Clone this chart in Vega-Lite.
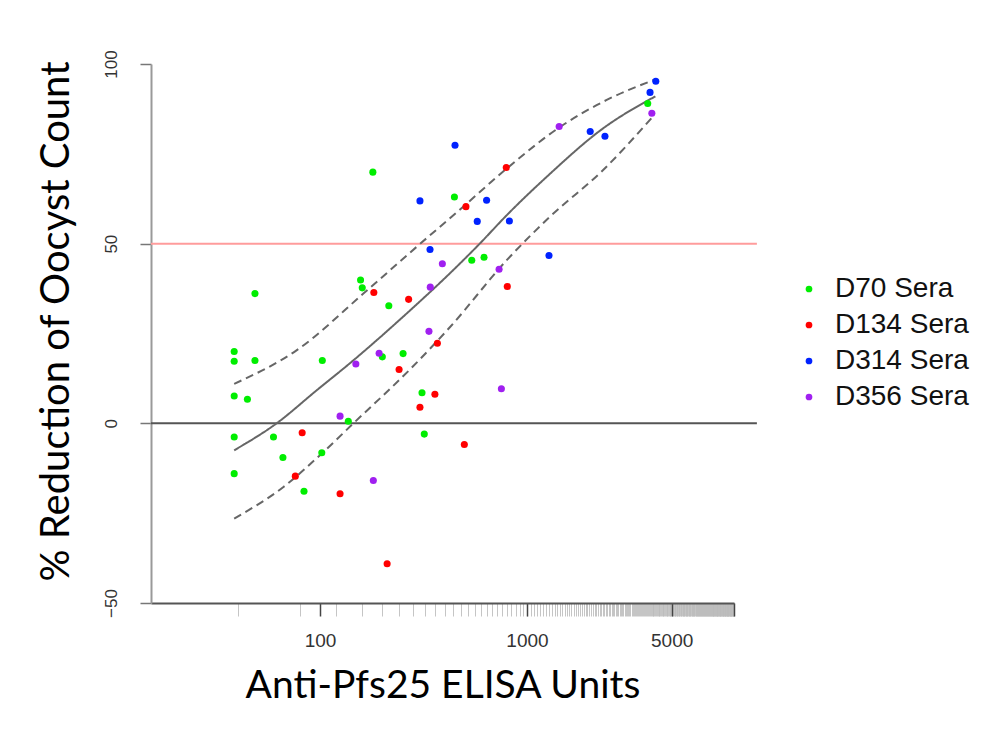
{
  "$schema": "https://vega.github.io/schema/vega-lite/v6.json",
  "width": 583,
  "height": 539,
  "autosize": {"type": "none"},
  "padding": {"left": 151, "top": 64, "right": 264, "bottom": 140},
  "background": "white",
  "config": {"view": {"stroke": null}, "font": "Liberation Sans"},
  "encoding": {
    "y": {
      "field": "y",
      "type": "quantitative",
      "scale": {"domain": [-50, 100], "nice": false, "zero": false},
      "axis": {
        "values": [-50, 0, 50, 100],
        "grid": false,
        "labelAngle": -90,
        "labelAlign": "center",
        "labelBaseline": "bottom",
        "labelFontSize": 17,
        "labelColor": "#333333",
        "labelPadding": 20,
        "tickSize": 11,
        "tickColor": "#777777",
        "tickWidth": 1.5,
        "domainColor": "#999999",
        "domainWidth": 2,
        "title": "% Reduction of Oocyst Count",
        "titleFont": "Lato",
        "titleFontSize": 40,
        "titleFontWeight": "normal",
        "titleColor": "#000000",
        "titlePadding": 26,
        "titleY": 257
      }
    }
  },
  "layer": [
    {
      "data": {"values": [{"x1": 15.26, "x2": 12900, "y": 50}]},
      "mark": {"type": "rule", "color": "#ff9c9c", "strokeWidth": 2},
      "encoding": {
        "x": {
          "field": "x1",
          "type": "quantitative",
          "scale": {"type": "log", "domain": [15.26, 10000], "nice": false},
          "axis": {
            "orient": "bottom",
            "values": [40,80,120,160,200,240,280,320,360,400,440,480,520,560,600,640,680,720,760,800,840,880,920,960,1000,
              1040,1080,1120,1160,1200,1240,1280,1320,1360,1400,1440,1480,1520,1560,1600,1640,1680,1720,1760,1800,1840,1880,1920,1960,2000,
              2040,2080,2120,2160,2200,2240,2280,2320,2360,2400,2440,2480,2520,2560,2600,2640,2680,2720,2760,2800,2840,2880,2920,2960,3000,
              3040,3080,3120,3160,3200,3240,3280,3320,3360,3400,3440,3480,3520,3560,3600,3640,3680,3720,3760,3800,3840,3880,3920,3960,4000,
              4040,4080,4120,4160,4200,4240,4280,4320,4360,4400,4440,4480,4520,4560,4600,4640,4680,4720,4760,4800,4840,4880,4920,4960,5000,
              5040,5080,5120,5160,5200,5240,5280,5320,5360,5400,5440,5480,5520,5560,5600,5640,5680,5720,5760,5800,5840,5880,5920,5960,6000,
              6040,6080,6120,6160,6200,6240,6280,6320,6360,6400,6440,6480,6520,6560,6600,6640,6680,6720,6760,6800,6840,6880,6920,6960,7000,
              7040,7080,7120,7160,7200,7240,7280,7320,7360,7400,7440,7480,7520,7560,7600,7640,7680,7720,7760,7800,7840,7880,7920,7960,8000,
              8040,8080,8120,8160,8200,8240,8280,8320,8360,8400,8440,8480,8520,8560,8600,8640,8680,8720,8760,8800,8840,8880,8920,8960,9000,
              9040,9080,9120,9160,9200,9240,9280,9320,9360,9400,9440,9480,9520,9560,9600,9640,9680,9720,9760,9800,9840,9880,9920,9960,10000],
            "labels": false,
            "domain": false,
            "grid": false,
            "ticks": true,
            "tickSize": 13,
            "tickColor": "#bbbbbb",
            "tickWidth": 1,
            "tickOpacity": 0.85,
            "title": null
          }
        },
        "x2": {"field": "x2"}
      }
    },
    {
      "data": {"values": [{"x1": 15.26, "x2": 12900, "y": 0}]},
      "mark": {"type": "rule", "color": "#555555", "strokeWidth": 2},
      "encoding": {
        "x": {"field": "x1", "type": "quantitative", "scale": {"type": "log", "domain": [15.26, 10000], "nice": false}, "axis": null},
        "x2": {"field": "x2"}
      }
    },
    {
      "data": {
        "values": [
          {"x": 38.5, "y": -7.5, "band": "fit"},
          {"x": 61.7, "y": 0, "band": "fit"},
          {"x": 96.4, "y": 9.2, "band": "fit"},
          {"x": 140, "y": 16.8, "band": "fit"},
          {"x": 272, "y": 31.4, "band": "fit"},
          {"x": 425, "y": 41.8, "band": "fit"},
          {"x": 582, "y": 49.6, "band": "fit"},
          {"x": 807, "y": 58.2, "band": "fit"},
          {"x": 1245, "y": 68.6, "band": "fit"},
          {"x": 2333, "y": 82.1, "band": "fit"},
          {"x": 4170, "y": 91, "band": "fit"},
          {"x": 38.5, "y": 11, "band": "upper"},
          {"x": 77, "y": 20.3, "band": "upper"},
          {"x": 162, "y": 36.1, "band": "upper"},
          {"x": 272, "y": 47.5, "band": "upper"},
          {"x": 492, "y": 60.3, "band": "upper"},
          {"x": 798, "y": 70.9, "band": "upper"},
          {"x": 1446, "y": 82.5, "band": "upper"},
          {"x": 2427, "y": 90.0, "band": "upper"},
          {"x": 4074, "y": 95.5, "band": "upper"},
          {"x": 38.5, "y": -26.5, "band": "lower"},
          {"x": 66.6, "y": -17.7, "band": "lower"},
          {"x": 102, "y": -8.4, "band": "lower"},
          {"x": 145, "y": 0, "band": "lower"},
          {"x": 272, "y": 15, "band": "lower"},
          {"x": 425, "y": 26.8, "band": "lower"},
          {"x": 798, "y": 45.4, "band": "lower"},
          {"x": 1291, "y": 57.5, "band": "lower"},
          {"x": 2333, "y": 70.5, "band": "lower"},
          {"x": 3990, "y": 84.9, "band": "lower"}
        ]
      },
      "mark": {"type": "line", "color": "#666666", "strokeWidth": 2, "interpolate": "monotone"},
      "encoding": {
        "x": {"field": "x", "type": "quantitative", "scale": {"type": "log", "domain": [15.26, 10000], "nice": false}, "axis": null},
        "detail": {"field": "band"},
        "strokeDash": {
          "field": "band",
          "type": "nominal",
          "scale": {"domain": ["fit", "lower", "upper"], "range": [[1, 0], [8, 5], [8, 5]]},
          "legend": null
        }
      }
    },
    {
      "data": {
        "values": [
          {"x": 38.5, "y": 20.0, "group": "D70 Sera"},
          {"x": 38.5, "y": 17.3, "group": "D70 Sera"},
          {"x": 38.5, "y": 7.6, "group": "D70 Sera"},
          {"x": 38.5, "y": -3.8, "group": "D70 Sera"},
          {"x": 38.5, "y": -14.0, "group": "D70 Sera"},
          {"x": 44.6, "y": 6.7, "group": "D70 Sera"},
          {"x": 48.5, "y": 36.1, "group": "D70 Sera"},
          {"x": 48.5, "y": 17.5, "group": "D70 Sera"},
          {"x": 59.6, "y": -3.8, "group": "D70 Sera"},
          {"x": 66.2, "y": -9.5, "group": "D70 Sera"},
          {"x": 83.7, "y": -18.9, "group": "D70 Sera"},
          {"x": 102, "y": -8.2, "group": "D70 Sera"},
          {"x": 102.6, "y": 17.5, "group": "D70 Sera"},
          {"x": 137, "y": 0.6, "group": "D70 Sera"},
          {"x": 157, "y": 39.9, "group": "D70 Sera"},
          {"x": 160, "y": 37.7, "group": "D70 Sera"},
          {"x": 180, "y": 69.9, "group": "D70 Sera"},
          {"x": 200, "y": 18.5, "group": "D70 Sera"},
          {"x": 215, "y": 32.7, "group": "D70 Sera"},
          {"x": 252, "y": 19.4, "group": "D70 Sera"},
          {"x": 311, "y": 8.5, "group": "D70 Sera"},
          {"x": 319, "y": -3.0, "group": "D70 Sera"},
          {"x": 446, "y": 63.0, "group": "D70 Sera"},
          {"x": 541, "y": 45.4, "group": "D70 Sera"},
          {"x": 620, "y": 46.2, "group": "D70 Sera"},
          {"x": 3830, "y": 89.0, "group": "D70 Sera"},
          {"x": 76, "y": -14.7, "group": "D134 Sera"},
          {"x": 82, "y": -2.6, "group": "D134 Sera"},
          {"x": 125, "y": -19.6, "group": "D134 Sera"},
          {"x": 182, "y": 36.4, "group": "D134 Sera"},
          {"x": 211, "y": -39.1, "group": "D134 Sera"},
          {"x": 241, "y": 15.0, "group": "D134 Sera"},
          {"x": 268, "y": 34.5, "group": "D134 Sera"},
          {"x": 304, "y": 4.5, "group": "D134 Sera"},
          {"x": 359, "y": 8.1, "group": "D134 Sera"},
          {"x": 369, "y": 22.3, "group": "D134 Sera"},
          {"x": 498, "y": -5.9, "group": "D134 Sera"},
          {"x": 507, "y": 60.3, "group": "D134 Sera"},
          {"x": 794, "y": 71.2, "group": "D134 Sera"},
          {"x": 803, "y": 38.1, "group": "D134 Sera"},
          {"x": 304, "y": 61.9, "group": "D314 Sera"},
          {"x": 340, "y": 48.4, "group": "D314 Sera"},
          {"x": 449, "y": 77.4, "group": "D314 Sera"},
          {"x": 575, "y": 56.2, "group": "D314 Sera"},
          {"x": 638, "y": 62.1, "group": "D314 Sera"},
          {"x": 822, "y": 56.3, "group": "D314 Sera"},
          {"x": 1277, "y": 46.7, "group": "D314 Sera"},
          {"x": 2020, "y": 81.2, "group": "D314 Sera"},
          {"x": 2380, "y": 79.9, "group": "D314 Sera"},
          {"x": 3930, "y": 92.1, "group": "D314 Sera"},
          {"x": 4190, "y": 95.2, "group": "D314 Sera"},
          {"x": 125, "y": 2.0, "group": "D356 Sera"},
          {"x": 149, "y": 16.5, "group": "D356 Sera"},
          {"x": 181, "y": -15.9, "group": "D356 Sera"},
          {"x": 193, "y": 19.5, "group": "D356 Sera"},
          {"x": 336, "y": 25.6, "group": "D356 Sera"},
          {"x": 341, "y": 37.9, "group": "D356 Sera"},
          {"x": 390, "y": 44.4, "group": "D356 Sera"},
          {"x": 733, "y": 42.9, "group": "D356 Sera"},
          {"x": 752, "y": 9.6, "group": "D356 Sera"},
          {"x": 1430, "y": 82.6, "group": "D356 Sera"},
          {"x": 4010, "y": 86.3, "group": "D356 Sera"}
        ]
      },
      "mark": {"type": "point", "filled": true, "size": 50, "opacity": 1},
      "encoding": {
        "x": {
          "field": "x",
          "type": "quantitative",
          "scale": {"type": "log", "domain": [15.26, 10000], "nice": false},
          "axis": {
            "orient": "bottom",
            "values": [100, 1000, 5000, 10000],
            "labelExpr": "datum.value >= 10000 ? '' : format(datum.value, 'd')",
            "grid": false,
            "labelFontSize": 19,
            "labelColor": "#333333",
            "labelPadding": 15,
            "tickSize": 13,
            "tickColor": "#444444",
            "tickWidth": 1.5,
            "domainColor": "#555555",
            "domainWidth": 2,
            "title": "Anti-Pfs25 ELISA Units",
            "titleFont": "Lato",
            "titleFontSize": 39,
            "titleFontWeight": "normal",
            "titleColor": "#000000",
            "titlePadding": 16
          }
        },
        "color": {
          "field": "group",
          "type": "nominal",
          "scale": {
            "domain": ["D70 Sera", "D134 Sera", "D314 Sera", "D356 Sera"],
            "range": ["#00ee00", "#ff0000", "#0022ff", "#a020f0"]
          },
          "legend": {
            "title": null,
            "orient": "none",
            "legendX": 644,
            "legendY": 211,
            "padding": 0,
            "symbolType": "circle",
            "symbolSize": 45,
            "labelFontSize": 28,
            "labelColor": "#111111",
            "labelOffset": 12,
            "rowPadding": 8,
            "labelFont": "Liberation Sans"
          }
        }
      }
    }
  ],
  "resolve": {"axis": {"x": "independent"}}
}
